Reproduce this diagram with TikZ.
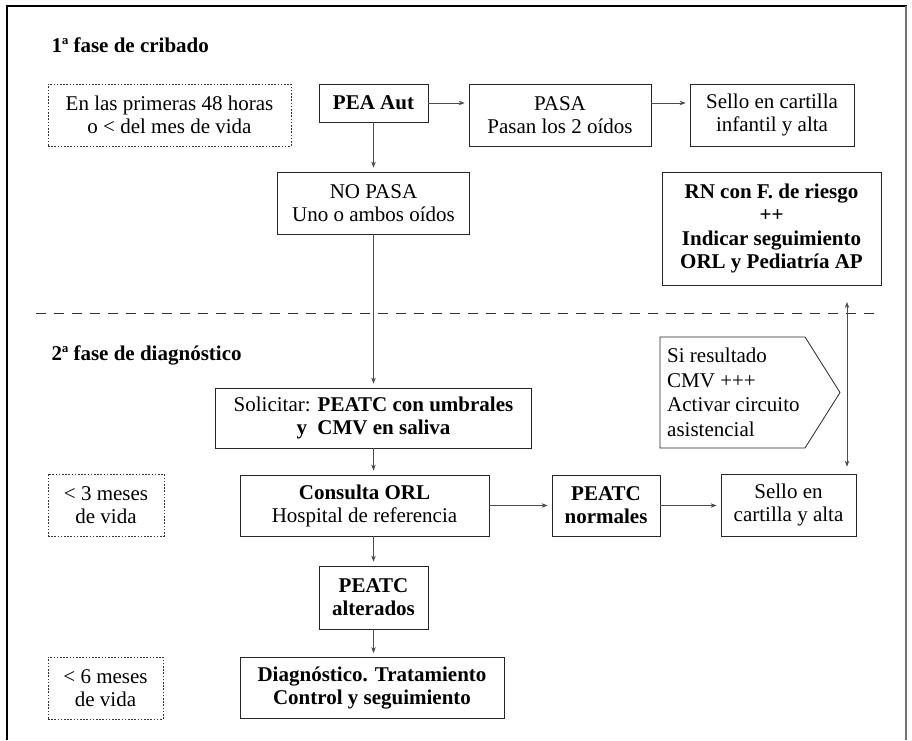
\documentclass[tikz,border=0pt]{standalone}
\usepackage{fontspec}
\setmainfont{Liberation Serif}
\usetikzlibrary{arrows.meta}

\begin{document}
\begin{tikzpicture}[x=1pt, y=-1pt,
  font=\fontsize{21}{23}\selectfont,
  >={Stealth[length=6pt,width=4.5pt]},
  box/.style={draw=black!85, line width=0.8pt, align=center, inner sep=0pt},
  hint/.style={draw=black!80, line width=0.7pt, dash pattern=on 1.6pt off 1.6pt, align=center, inner sep=0pt},
  arr/.style={->, draw=black!70, line width=0.7pt, shorten >=4pt},
  phase/.style={anchor=west, font=\fontsize{21}{23}\selectfont\bfseries}]
\useasboundingbox (0,0) rectangle (912,740);
\draw [black, line width=1.2pt] (7,740) -- (7,6) -- (907,6);
\draw [black!55, line width=2pt] (906,6) -- (906,740);

\node [phase] (fase1) at (48,45) {1ª fase de cribado};
\node [phase] (fase2) at (48,355) {2ª fase de diagnóstico};
\draw [black!80, line width=0.8pt, dash pattern=on 10pt off 8pt] (36,313) -- (876,313);

\node [hint, minimum width=243pt, minimum height=62pt] (horas) at (169.5,115) {En las primeras 48 horas\\o < del mes de vida};
\node [box, minimum width=109pt, minimum height=38pt] (pea) at (373.5,103) {\textbf{PEA Aut}};
\node [box, minimum width=182pt, minimum height=62pt] (pasa) at (560,115) {PASA\\Pasan los 2 oídos};
\node [box, minimum width=164pt, minimum height=62pt] (selloA) at (772,115) {Sello en cartilla\\infantil y alta};
\node [box, minimum width=192pt, minimum height=62pt] (nopasa) at (373.5,203) {NO PASA\\Uno o ambos oídos};
\node [box, minimum width=219pt, minimum height=113pt, font=\fontsize{21}{23.5}\selectfont\bfseries] (riesgo) at (771.5,228.5) {RN con F. de riesgo\\++\\Indicar seguimiento\\ORL y Pediatría AP};

\draw [black!85, line width=0.8pt] (660,337) -- (805,337) -- (840,392.5) -- (805,448) -- (660,448) -- cycle;
\node [anchor=west, align=left, inner sep=0pt, font=\fontsize{21}{24.5}\selectfont] (cmv) at (667,392.5) {Si resultado\\CMV +++\\Activar circuito\\asistencial};

\node [box, minimum width=316pt, minimum height=60pt] (solicitar) at (373.5,418) {Solicitar: \textbf{PEATC con umbrales}\\\textbf{y~~CMV en saliva}};
\node [hint, minimum width=116pt, minimum height=62pt] (tres) at (106,505) {< 3 meses\\de vida};
\node [box, minimum width=249pt, minimum height=61pt] (consulta) at (364.5,505.5) {\textbf{Consulta ORL}\\Hospital de referencia};
\node [box, minimum width=108pt, minimum height=61pt] (normales) at (606,505.5) {\textbf{PEATC}\\\textbf{normales}};
\node [box, minimum width=135pt, minimum height=62pt] (selloB) at (788.5,505) {Sello en\\cartilla y alta};
\node [box, minimum width=109pt, minimum height=63pt] (alterados) at (373.5,597.5) {\textbf{PEATC}\\\textbf{alterados}};
\node [box, minimum width=264pt, minimum height=61pt] (diag) at (372,688) {\textbf{Diagnóstico. Tratamiento}\\\textbf{Control y seguimiento}};
\node [hint, minimum width=115pt, minimum height=62pt] (seis) at (105.5,688) {< 6 meses\\de vida};

\draw [arr] (pea.east) -- (pea.east -| pasa.west);
\draw [arr] (pasa.east |- pea.east) -- (pea.east -| selloA.west);
\draw [arr] (pea.south) -- (nopasa.north);
\draw [arr] (nopasa.south) -- (nopasa.south |- solicitar.north);
\draw [arr] (solicitar.south) -- (solicitar.south |- consulta.north);
\draw [arr] (solicitar.south |- consulta.south) -- (alterados.north);
\draw [arr] (alterados.south) -- (alterados.south |- diag.north);
\draw [arr] (consulta.east) -- (normales.west);
\draw [arr] (normales.east) -- (normales.east -| selloB.west);
\coordinate (riesgoin) at (847,302);
\draw [arr, <->, shorten >=7pt] (riesgoin) -- (riesgoin |- selloB.north);
\end{tikzpicture}
\end{document}
